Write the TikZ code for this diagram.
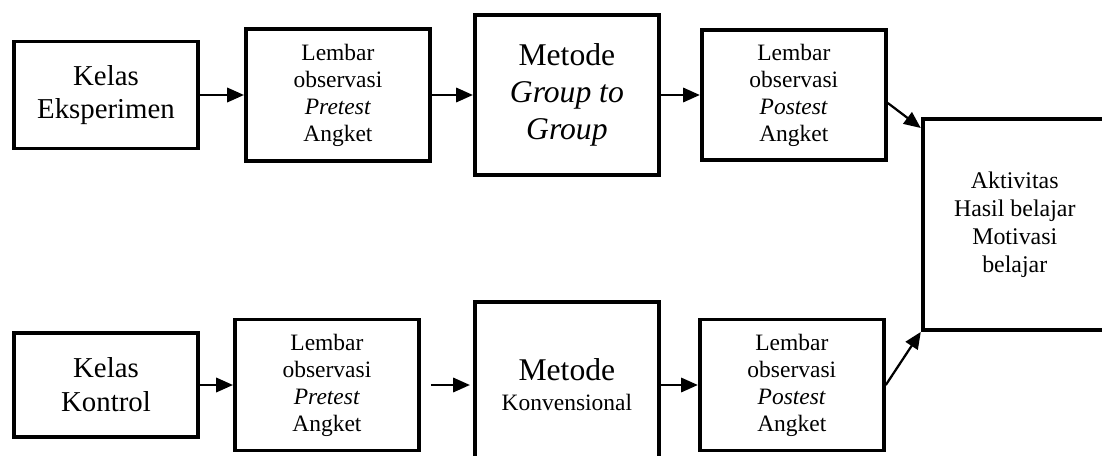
\documentclass[tikz,border=0pt]{standalone}
\usepackage{fontspec}
\setmainfont{Liberation Serif}
\usetikzlibrary{arrows.meta,positioning}

\begin{document}
\begin{tikzpicture}[node distance=1cm and 1cm,
  box/.style={rectangle, draw=black, line width=2.8pt, align=center,
              minimum width=4.6cm, inner sep=2pt},
  small/.style={font=\fontsize{16.7}{19.2}\selectfont},
  big/.style={font=\fontsize{20.5}{24}\selectfont},
  bigger/.style={font=\fontsize{22.5}{26.3}\selectfont},
  result/.style={font=\fontsize{17}{20}\selectfont},
  arr/.style={-{Triangle[length=11.9pt,width=10.2pt]}, line width=1.6pt}]

  \clip (0,0) rectangle (27.55,-11.375);

  \node[box, big, minimum height=2.675cm] (ke) at (2.65,-2.375) {Kelas\\Eksperimen};
  \node[box, small, minimum height=3.3cm, right=1.1cm of ke] (prea) {Lembar\\observasi\\\textit{Pretest}\\Angket};
  \node[box, bigger, minimum height=4.0cm, right=1.025cm of prea] (gtg) {Metode\\\textit{Group to}\\\textit{Group}};
  \node[box, small, minimum height=3.25cm, right=0.975cm of gtg] (posta) {Lembar\\observasi\\\textit{Postest}\\Angket};
  \node[box, result, minimum height=5.275cm, below right=0.55cm and 0.825cm of posta.east] (hasil) {Aktivitas\\Hasil belajar\\Motivasi\\belajar};

  \node[box, big, minimum height=2.6cm] (kk) at (2.65,-9.625) {Kelas\\Kontrol};
  \node[box, small, minimum height=3.275cm, right=0.825cm of kk] (preb) {Lembar\\observasi\\\textit{Pretest}\\Angket};
  \node[box, small, minimum height=4.15cm, right=1.3cm of preb] (konv) {{\fontsize{22.5}{26.3}\selectfont Metode}\\[2pt]Konvensional};
  \node[box, small, minimum height=3.275cm, right=0.925cm of konv] (postb) {Lembar\\observasi\\\textit{Postest}\\Angket};

  \draw[arr] (ke.east) -- (prea.west);
  \draw[arr] (prea.east) -- (gtg.west);
  \draw[arr] (gtg.east) -- (posta.west);
  \draw[arr] ([yshift=-0.2cm]posta.east) -- ([yshift=-0.275cm]hasil.north west);
  \draw[arr] (kk.east) -- (preb.west);
  \draw[arr, shorten <=0.25cm, shorten >=0.075cm] (preb.east) -- (konv.west);
  \draw[arr] (konv.east) -- (postb.west);
  \draw[arr] (postb.east) -- (hasil.south west);

\end{tikzpicture}
\end{document}
